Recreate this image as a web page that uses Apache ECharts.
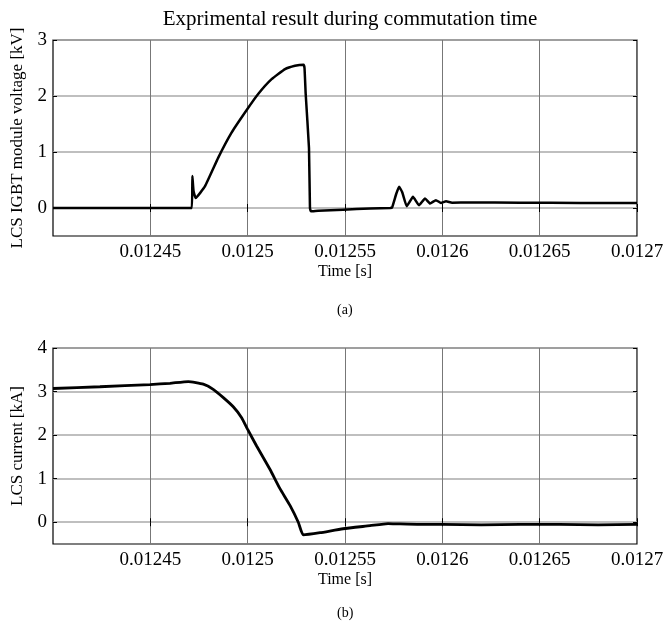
<!DOCTYPE html>
<html><head><meta charset="utf-8">
<script src="https://cdn.jsdelivr.net/npm/echarts@6/dist/echarts.min.js"></script>
<style>html,body{margin:0;padding:0;background:#fff}#c{width:668px;height:626px}</style>
</head><body><div id="c"></div>
<script>
// Voltage trace (a)
var vTime = [0.012400,0.0124713,0.0124716,0.0124722,0.0124733,0.0124781,0.0124849,0.0124918,0.0124995,0.0125055,0.0125123,0.0125192,0.0125243,0.0125287,0.0125292,0.0125298,0.0125315,0.0125320,0.0125325,0.0125362,0.0125490,0.0125629,0.0125732,0.0125742,0.0125763,0.0125778,0.0125794,0.0125817,0.0125834,0.0125849,0.0125880,0.0125911,0.0125937,0.0125967,0.0125993,0.0126019,0.0126050,0.0126140,0.0126400,0.0126710,0.0127000];
var vVolt = [0,0,0.57,0.3,0.18,0.39,0.9,1.35,1.75,2.04,2.3,2.48,2.54,2.56,2.5,2.04,1.07,0,-0.06,-0.05,-0.03,-0.01,0,0.01,0.25,0.38,0.28,0.03,0.12,0.2,0.05,0.17,0.08,0.14,0.09,0.12,0.095,0.1,0.095,0.09,0.09];
// Current trace (b)
var iTime = [0.012400,0.0124241,0.0124498,0.0124601,0.0124695,0.0124772,0.0124823,0.0124875,0.0124926,0.0124969,0.0125000,0.0125046,0.0125115,0.0125166,0.0125218,0.0125260,0.0125286,0.0125372,0.0125490,0.0125628,0.0125721,0.0125783,0.0125885,0.012600,0.012620,0.012640,0.012660,0.012680,0.0127000];
var iCurr = [3.07,3.11,3.16,3.19,3.23,3.17,3.05,2.86,2.65,2.4,2.13,1.75,1.21,0.77,0.38,0,-0.29,-0.24,-0.15,-0.08,-0.03,-0.04,-0.05,-0.05,-0.06,-0.05,-0.05,-0.06,-0.05];
var xTicks = [0.01245,0.0125,0.01255,0.0126,0.01265,0.0127];
var vTicks = [0,1,2,3];
var iTicks = [0,1,2,3,4];
var titleText = 'Exprimental result during commutation time';

function pairs(t, v){ return t.map(function(x,i){return [x, v[i]];}); }
var FONT = 'Liberation Serif';
var fmtX = function(v){ return String(Number(v.toFixed(6))); };

function xAx(gi, show){
  return {
    type:'value', gridIndex:gi, min:0.0124, max:0.0127, position: show?'bottom':'top',
    name: show?'Time [s]':'', nameLocation:'middle', nameGap:28,
    nameTextStyle:{fontFamily:FONT,fontSize:16,color:'#000'},
    axisLine:{show:false},
    axisTick:{show:true,inside:true,length:4,customValues:xTicks,lineStyle:{color:'#000'}},
    axisLabel:{show:show,customValues:xTicks,formatter:fmtX,fontFamily:FONT,fontSize:19,color:'#000',margin:7},
    splitLine:{show:show,lineStyle:{color:'#777',width:1}}
  };
}
function yAx(gi, min, max, ticks, name, show){
  return {
    type:'value', gridIndex:gi, min:min, max:max, position: show?'left':'right',
    name: show?name:'', nameLocation:'middle', nameGap:27,
    nameTextStyle:{fontFamily:FONT,fontSize:17,color:'#000'},
    axisLine:{show:false},
    axisTick:{show:true,inside:true,length:4,customValues:ticks,lineStyle:{color:'#000'}},
    axisLabel:{show:show,customValues:ticks,fontFamily:FONT,fontSize:19,color:'#000',margin:6},
    splitLine:{show:show,lineStyle:{color:'#aaa',width:1.5}}
  };
}

var chart = echarts.init(document.getElementById('c'), null, {renderer:'canvas'});
chart.setOption({
  animation:false,
  backgroundColor:'#fff',
  title:{text:titleText,left:345,top:4,textAlign:'center',textStyle:{fontFamily:FONT,fontSize:21,fontWeight:'normal',color:'#000'}},
  grid:[
    {left:53,top:40,width:584,height:196,show:true,borderColor:'#000',borderWidth:1.2,backgroundColor:'transparent'},
    {left:53,top:348,width:584,height:196,show:true,borderColor:'#000',borderWidth:1.2,backgroundColor:'transparent'}
  ],
  xAxis:[xAx(0,true),xAx(0,false),xAx(1,true),xAx(1,false)],
  yAxis:[yAx(0,-0.5,3,vTicks,'LCS IGBT module voltage [kV]',true),yAx(0,-0.5,3,vTicks,'',false),
         yAx(1,-0.5,4,iTicks,'LCS current [kA]',true),yAx(1,-0.5,4,iTicks,'',false)],
  graphic:[
    {type:'text',left:337,top:303,style:{text:'(a)',fontFamily:FONT,fontSize:14,fill:'#000'}},
    {type:'text',left:337,top:606,style:{text:'(b)',fontFamily:FONT,fontSize:14,fill:'#000'}}
  ],
  series:[
    {type:'line',xAxisIndex:0,yAxisIndex:0,data:pairs(vTime,vVolt),showSymbol:false,smooth:0.12,lineStyle:{color:'#000',width:2.5}},
    {type:'line',xAxisIndex:2,yAxisIndex:2,data:pairs(iTime,iCurr),showSymbol:false,smooth:0.15,lineStyle:{color:'#000',width:2.8}}
  ]
});
</script></body></html>
